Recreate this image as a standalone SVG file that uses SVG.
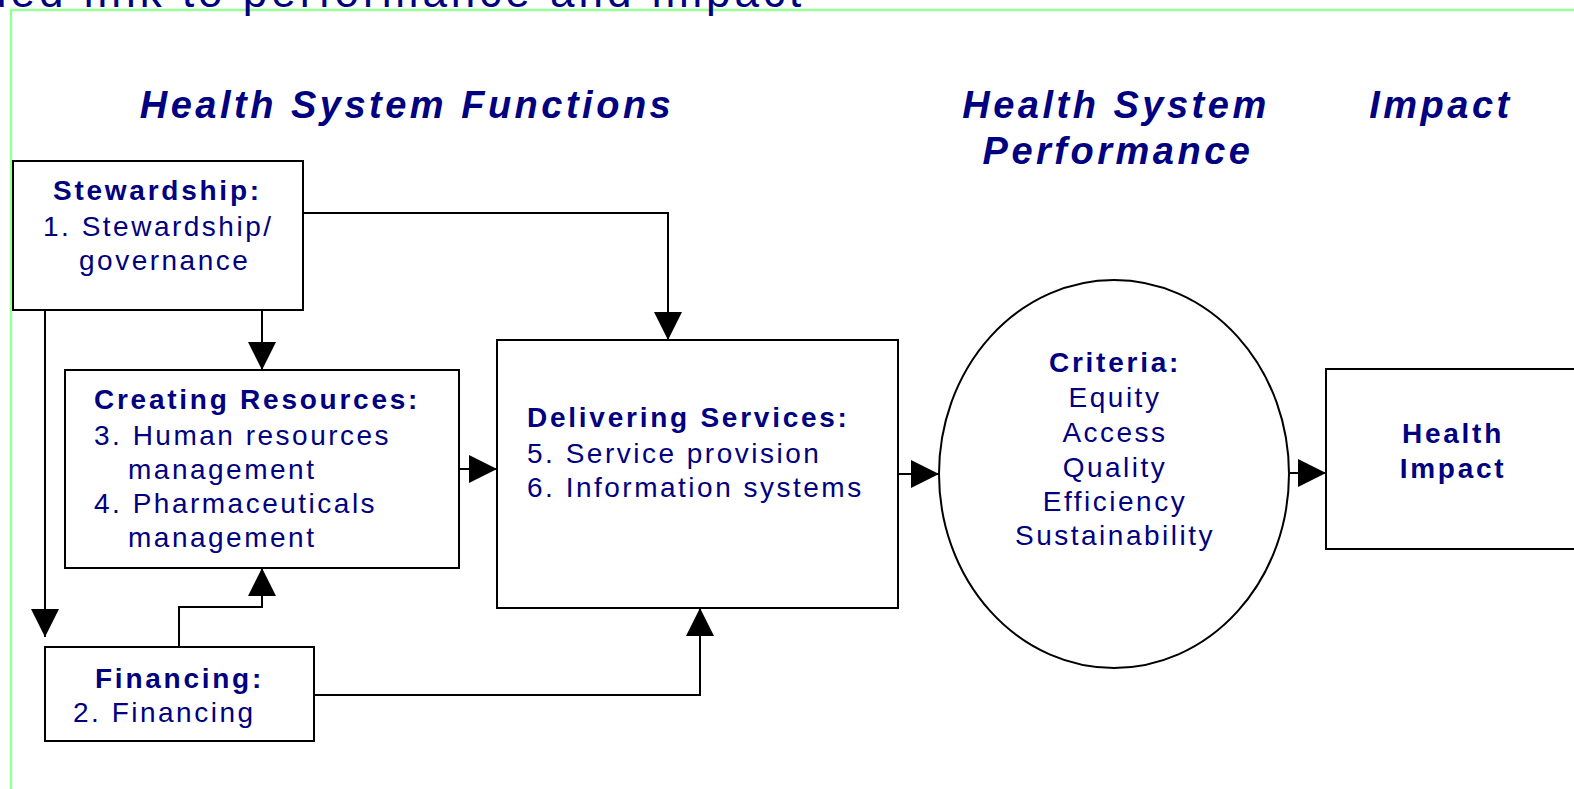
<svg xmlns="http://www.w3.org/2000/svg" width="1574" height="789" viewBox="0 0 1574 789">
<style>
.t{font-family:"Liberation Sans",Arial,sans-serif;font-size:28px;fill:#000080;letter-spacing:2.5px}
.b{font-weight:bold;letter-spacing:2.75px}
.h{font-family:"Liberation Sans",Arial,sans-serif;font-size:38px;font-weight:bold;font-style:italic;fill:#000080;letter-spacing:3.5px;text-anchor:middle}
.box{fill:#fff;stroke:#000;stroke-width:2}
.c{fill:none;stroke:#000;stroke-width:2}
.m{text-anchor:middle}
</style>
<defs>
<marker id="ah" viewBox="0 0 28 28" refX="28" refY="14" markerWidth="28" markerHeight="28" markerUnits="userSpaceOnUse" orient="auto">
<path d="M0,0 L28,14 L0,28 z" fill="#000"/>
</marker>
</defs>
<rect width="1574" height="789" fill="#fff"/>
<path d="M11,789 V10 H1574" fill="none" stroke="#99ff99" stroke-width="2.5"/>
<text x="-18" y="7" font-family="Liberation Sans, Arial, sans-serif" font-size="44" fill="#000080" letter-spacing="4">ded link to performance and impact</text>

<g id="headings">
<text class="h" x="407" y="118">Health System Functions</text>
<text class="h" x="1116" y="118">Health System</text>
<text class="h" x="1118" y="164">Performance</text>
<text class="h" x="1441" y="118">Impact</text>
</g>

<g id="connectors">
<path class="c" d="M262,310 V370" marker-end="url(#ah)"/>
<path class="c" d="M45,310 V637" marker-end="url(#ah)"/>
<path class="c" d="M303,213 H668 V340" marker-end="url(#ah)"/>
<path class="c" d="M179,647 V607 H262 V568" marker-end="url(#ah)"/>
<path class="c" d="M314,695 H700 V608" marker-end="url(#ah)"/>
<path class="c" d="M459,469 H497" marker-end="url(#ah)"/>
<path class="c" d="M898,474 H939" marker-end="url(#ah)"/>
<path class="c" d="M1289,473 H1326" marker-end="url(#ah)"/>
</g>

<g id="stewardship">
<rect class="box" x="13" y="161" width="290" height="149"/>
<text class="t b" x="53" y="200">Stewardship:</text>
<text class="t" x="43" y="236">1. Stewardship/</text>
<text class="t" x="79" y="270">governance</text>
</g>

<g id="creating-resources">
<rect class="box" x="65" y="370" width="394" height="198"/>
<text class="t b" x="94" y="409">Creating Resources:</text>
<text class="t" x="94" y="445">3. Human resources</text>
<text class="t" x="128" y="479">management</text>
<text class="t" x="94" y="513">4. Pharmaceuticals</text>
<text class="t" x="128" y="547">management</text>
</g>

<g id="financing">
<rect class="box" x="45" y="647" width="269" height="94"/>
<text class="t b" x="95" y="688">Financing:</text>
<text class="t" x="73" y="722">2. Financing</text>
</g>

<g id="delivering-services">
<rect class="box" x="497" y="340" width="401" height="268"/>
<text class="t b" x="527" y="427">Delivering Services:</text>
<text class="t" x="527" y="463">5. Service provision</text>
<text class="t" x="527" y="497">6. Information systems</text>
</g>

<g id="criteria">
<ellipse class="box" cx="1114" cy="474" rx="175" ry="194"/>
<text class="t b m" x="1115" y="372">Criteria:</text>
<text class="t m" x="1115" y="407">Equity</text>
<text class="t m" x="1115" y="442">Access</text>
<text class="t m" x="1115" y="477">Quality</text>
<text class="t m" x="1115" y="511">Efficiency</text>
<text class="t m" x="1115" y="545">Sustainability</text>
</g>

<g id="health-impact">
<rect class="box" x="1326" y="369" width="260" height="180"/>
<text class="t b m" x="1453" y="443">Health</text>
<text class="t b m" x="1453" y="478">Impact</text>
</g>
</svg>
